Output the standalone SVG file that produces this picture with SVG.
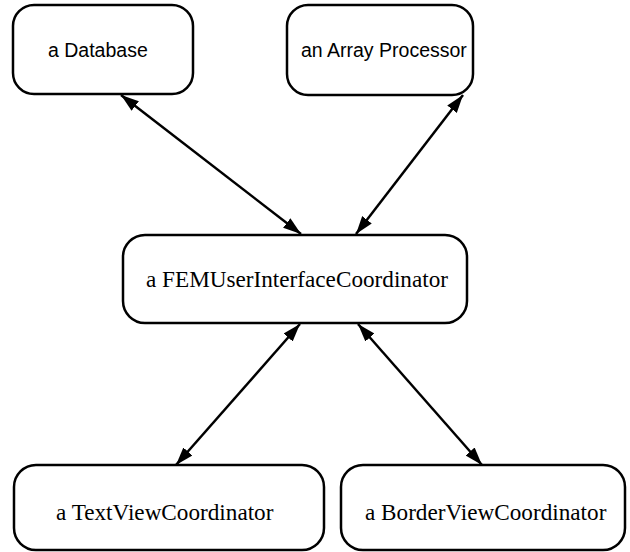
<svg xmlns="http://www.w3.org/2000/svg" width="630" height="552" viewBox="0 0 630 552">
<style>
.box{fill:#fff;stroke:#000;stroke-width:2.5}
.sans{font-family:"Liberation Sans",Arial,sans-serif;font-size:19.5px;fill:#000}
.serif{font-family:"Liberation Serif","Times New Roman",serif;font-size:23.2px;fill:#000}
.conn{stroke:#000;stroke-width:2.5;fill:none;marker-start:url(#ah);marker-end:url(#ah)}
</style>
<defs>
<marker id="ah" markerUnits="userSpaceOnUse" markerWidth="20" markerHeight="14" refX="18" refY="6" orient="auto-start-reverse" viewBox="0 0 20 12">
<path d="M0,0 L18,6 L0,12 Z" fill="#000"/>
</marker>
</defs>
<rect width="630" height="552" fill="#fff"/>
<g id="connectors">
<line class="conn" x1="121" y1="95" x2="301" y2="234"/>
<line class="conn" x1="463" y1="95" x2="356" y2="234"/>
<line class="conn" x1="300" y1="324" x2="176" y2="465"/>
<line class="conn" x1="358" y1="324" x2="482" y2="465"/>
</g>
<g id="database">
<rect class="box" x="13" y="5" width="180" height="89" rx="21"/>
<text class="sans" x="48" y="57">a Database</text>
</g>
<g id="arrayProcessor">
<rect class="box" x="287" y="5" width="186" height="90" rx="21"/>
<text class="sans" x="301" y="57">an Array Processor</text>
</g>
<g id="femCoordinator">
<rect class="box" x="123" y="235" width="344" height="88" rx="22"/>
<text class="serif" x="146" y="287">a FEMUserInterfaceCoordinator</text>
</g>
<g id="textViewCoordinator">
<rect class="box" x="14" y="465" width="310" height="85" rx="22"/>
<text class="serif" x="56" y="520">a TextViewCoordinator</text>
</g>
<g id="borderViewCoordinator">
<rect class="box" x="341" y="465" width="284" height="85" rx="22"/>
<text class="serif" x="365" y="520">a BorderViewCoordinator</text>
</g>
</svg>
